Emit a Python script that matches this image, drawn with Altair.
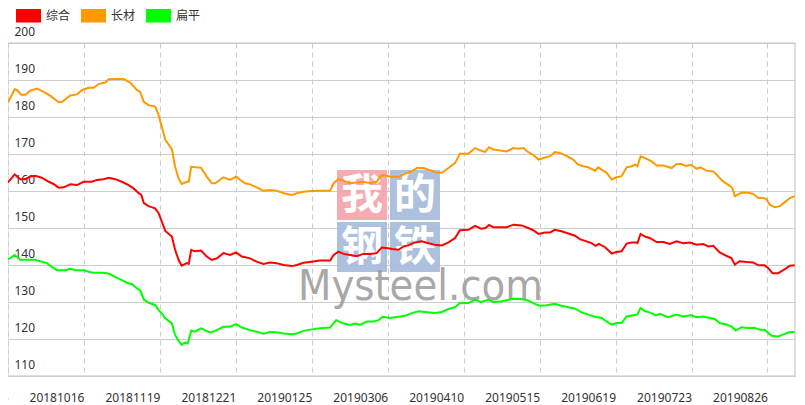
import altair as alt
import pandas as pd

series_names = ["综合", "长材", "扁平"]
series_colors = ["#ff0000", "#ff9900", "#00ff00"]

tick_idx = [0, 24, 48, 72, 96, 120, 144, 168, 192, 216, 240]
tick_labels = ["20180905", "20181016", "20181119", "20181221", "20190125", "20190306",
               "20190410", "20190515", "20190619", "20190723", "20190826"]
y_ticks = [110, 120, 130, 140, 150, 160, 170, 180, 190, 200]

# 长材
long_x = [0, 2.1, 2.8, 4.2, 5.5, 7.0, 9.2, 11.3, 13.4, 16.0, 17.1, 19.7, 21.8, 23.4, 25.5, 27.1, 28.6, 30.7, 31.8, 33.9,
          36.5, 38.6, 40.7, 41.8, 42.9, 44.4, 46.5, 47.4, 48.6, 49.7, 51.8, 52.8, 53.9, 54.9, 56.5, 57.1, 57.9, 59.1, 61.0, 62.8,
          64.4, 65.5, 68.1, 70.2, 72.1, 73.4, 74.9, 76.5, 78.6, 80.7, 82.8, 84.9, 87.1, 89.7, 91.3, 93.4, 96.0, 98.6, 101.8, 102.9,
          104.4, 106.0, 108.1, 110.2, 112.3, 114.4, 116.5, 117.6, 118.6, 120.7, 123.4, 125.5, 127.6, 129.2, 131.3, 133.4, 135.5, 137.1, 139.2, 141.3,
          142.8, 145.5, 147.6, 149.2, 150.7, 152.0, 153.4, 155.0, 157.6, 159.7, 161.3, 162.9, 164.4, 166.0, 167.6, 169.2, 171.3, 172.8, 174.4, 176.5,
          178.6, 180.2, 181.8, 183.4, 185.5, 186.5, 188.1, 189.2, 190.8, 192.3, 193.9, 195.5, 197.1, 198.1, 198.9, 199.9, 201.3, 203.4, 205.0, 207.1,
          209.7, 211.3, 212.8, 214.2, 215.8, 217.6, 218.8, 220.7, 222.9, 224.4, 226.0, 228.1, 228.9, 229.7, 231.8, 233.9, 235.5, 237.1, 238.6, 239.7,
          240.7, 242.3, 243.9, 245.5, 247.1, 248.6]
long_v = [183.9, 187.5, 187.3, 186.0, 186.0, 187.1, 187.7, 186.8, 185.7, 184.0, 184.1, 185.8, 186.1, 187.3, 187.9, 187.9, 188.9, 189.3, 190.2, 190.3,
          190.3, 189.3, 187.3, 186.8, 184.1, 183.2, 182.8, 181.0, 177.4, 173.8, 171.3, 166.6, 163.4, 161.9, 162.5, 162.5, 166.6, 166.4, 166.3, 163.9,
          162.1, 162.1, 163.7, 163.0, 163.9, 163.0, 162.1, 161.8, 161.0, 160.1, 160.3, 160.1, 159.4, 158.9, 159.4, 159.8, 160.0, 160.1, 160.1, 162.1,
          163.2, 162.8, 162.1, 162.3, 162.5, 162.1, 162.5, 163.9, 164.3, 163.9, 163.8, 164.7, 165.3, 166.2, 166.2, 165.6, 164.9, 164.9, 166.2, 167.6,
          170.1, 170.1, 171.6, 171.0, 170.5, 171.8, 171.2, 171.0, 170.7, 171.6, 171.4, 171.6, 170.5, 169.8, 168.5, 168.9, 169.4, 170.5, 170.3, 169.5,
          168.5, 167.1, 166.7, 166.4, 165.5, 166.4, 165.5, 164.9, 163.1, 163.7, 164.0, 166.4, 166.7, 167.1, 166.7, 169.4, 168.9, 168.0, 166.9, 166.9,
          166.2, 167.3, 167.3, 166.8, 167.1, 166.0, 166.4, 165.5, 165.3, 164.0, 162.6, 161.4, 160.8, 158.6, 159.6, 159.5, 159.2, 158.1, 158.1, 157.8,
          156.3, 155.6, 155.9, 157.0, 158.1, 158.6]

# 综合
comp_x = [0, 2.1, 3.9, 5.5, 7.0, 8.6, 10.7, 12.9, 14.4, 16.0, 17.6, 19.7, 21.8, 23.9, 26.5, 28.1, 30.2, 31.8, 33.9, 36.0,
          38.1, 39.7, 41.3, 42.1, 42.9, 44.4, 46.5, 47.6, 48.6, 49.7, 51.8, 52.8, 53.9, 54.9, 56.5, 57.1, 57.9, 59.1, 61.0, 62.8,
          64.4, 66.0, 68.1, 70.2, 72.1, 73.9, 76.5, 78.6, 80.7, 82.8, 84.9, 87.1, 89.7, 91.3, 93.4, 96.0, 98.6, 101.8, 102.9, 104.4,
          106.0, 108.1, 110.2, 112.3, 114.4, 116.5, 118.1, 120.2, 121.3, 123.4, 125.0, 126.5, 128.6, 130.7, 132.9, 134.9, 137.1, 139.2, 141.3, 142.8,
          145.5, 147.6, 149.5, 150.9, 152.0, 153.4, 155.0, 157.6, 159.7, 162.3, 164.4, 166.0, 167.6, 169.7, 171.3, 172.8, 174.9, 177.1, 179.2, 180.7,
          182.8, 184.4, 185.7, 186.7, 188.7, 190.8, 192.3, 193.9, 195.5, 197.1, 198.4, 198.9, 199.9, 201.3, 202.8, 205.0, 207.1, 209.1, 211.3, 213.4,
          215.5, 217.6, 219.7, 221.3, 222.9, 224.9, 227.0, 228.6, 229.7, 231.2, 233.4, 235.5, 237.1, 239.1, 240.2, 241.6, 243.4, 245.5, 247.1, 248.6]
comp_v = [162.3, 164.5, 163.2, 163.2, 163.9, 164.1, 163.6, 162.5, 161.9, 160.9, 161.0, 161.8, 161.6, 162.5, 162.5, 163.0, 163.2, 163.6, 163.2, 162.5,
          161.6, 160.7, 159.4, 159.0, 156.8, 155.9, 155.3, 154.0, 151.7, 149.2, 147.7, 144.1, 141.4, 139.8, 140.5, 140.3, 144.1, 143.7, 143.9, 142.3,
          141.4, 141.8, 143.2, 142.7, 143.4, 142.3, 141.8, 140.9, 140.3, 140.7, 140.5, 140.0, 139.7, 140.0, 140.6, 140.9, 141.2, 141.2, 142.7, 143.6,
          143.0, 142.7, 142.4, 143.0, 143.0, 143.2, 144.7, 144.5, 144.3, 144.1, 145.0, 145.3, 146.1, 146.4, 145.9, 145.5, 145.3, 146.1, 147.3, 149.4,
          149.5, 150.6, 149.8, 150.0, 150.8, 150.2, 150.2, 150.2, 150.9, 150.7, 150.0, 149.4, 148.4, 148.8, 148.8, 149.5, 149.1, 148.5, 147.9, 147.0,
          146.4, 145.9, 145.2, 145.7, 144.8, 143.1, 143.5, 143.7, 145.8, 146.1, 146.1, 145.9, 148.4, 147.7, 147.3, 146.2, 146.2, 145.7, 146.4, 145.9,
          146.1, 145.5, 145.7, 145.0, 145.2, 143.4, 142.5, 141.9, 140.1, 141.0, 140.8, 140.7, 139.9, 139.9, 139.2, 137.8, 137.8, 138.9, 139.8, 139.9]

# 扁平
flat_x = [0, 2.1, 3.9, 6.5, 8.6, 10.7, 12.3, 13.9, 15.5, 18.1, 19.7, 21.3, 23.9, 26.5, 29.7, 31.8, 33.9, 36.0, 37.6, 39.2,
          40.7, 41.8, 42.9, 44.4, 46.5, 47.6, 48.6, 49.7, 51.8, 52.8, 53.9, 54.9, 55.8, 56.8, 57.9, 59.0, 61.0, 63.9, 66.0, 68.1,
          70.2, 72.1, 73.9, 76.5, 78.6, 80.7, 82.8, 84.9, 87.1, 89.7, 91.3, 93.4, 96.0, 98.6, 101.8, 103.7, 106.0, 108.1, 109.7, 111.3,
          113.4, 115.5, 117.1, 118.4, 120.7, 123.4, 125.5, 127.6, 129.7, 131.8, 134.9, 137.1, 139.2, 141.3, 142.8, 145.5, 147.6, 149.5, 151.8, 153.4,
          156.0, 157.6, 159.7, 162.3, 164.4, 166.0, 167.9, 170.2, 172.8, 174.9, 177.1, 179.2, 181.3, 183.4, 185.5, 187.6, 188.7, 190.8, 192.3, 193.9,
          195.5, 197.6, 198.9, 199.9, 201.3, 202.8, 204.7, 206.0, 208.6, 211.3, 213.4, 215.8, 217.6, 219.7, 221.8, 223.4, 224.9, 227.0, 228.6, 230.0,
          231.8, 233.9, 236.0, 237.6, 239.1, 241.3, 243.4, 245.5, 247.1, 248.6]
flat_v = [141.5, 142.7, 141.4, 141.4, 141.4, 140.9, 140.5, 139.5, 138.6, 138.6, 139.0, 138.6, 138.6, 138.0, 137.9, 137.7, 136.8, 135.9, 135.2, 134.8,
          133.7, 133.1, 130.7, 129.8, 129.2, 127.8, 126.9, 125.6, 124.2, 121.1, 119.5, 118.4, 119.0, 118.8, 122.3, 122.0, 122.9, 121.7, 122.4, 123.3,
          123.3, 124.0, 123.1, 122.4, 122.0, 121.4, 121.9, 121.8, 121.5, 121.3, 121.5, 122.2, 122.6, 122.9, 123.1, 125.1, 124.2, 123.8, 124.2, 123.8,
          124.7, 124.7, 125.1, 126.0, 125.7, 126.0, 126.3, 127.0, 127.5, 127.3, 127.0, 127.3, 128.1, 128.6, 129.7, 129.7, 130.6, 130.0, 130.6, 130.0,
          130.2, 130.5, 130.9, 130.8, 130.4, 129.7, 129.0, 129.1, 129.5, 129.0, 128.6, 128.2, 127.2, 126.6, 126.0, 125.7, 125.0, 123.9, 124.3, 124.3,
          126.1, 126.4, 126.6, 128.4, 127.5, 127.2, 126.4, 126.8, 125.9, 126.6, 126.1, 126.4, 125.9, 126.1, 125.7, 125.4, 124.3, 123.9, 123.4, 122.3,
          123.2, 123.0, 123.0, 122.5, 122.5, 120.9, 120.7, 121.4, 121.9, 121.9]

assert len(long_x) == len(long_v)
assert len(comp_x) == len(comp_v)
assert len(flat_x) == len(flat_v)

rows = []
for name, xs, vs in [("综合", comp_x, comp_v), ("长材", long_x, long_v), ("扁平", flat_x, flat_v)]:
    for x, v in zip(xs, vs):
        rows.append({"series": name, "idx": x, "value": v})
df = pd.DataFrame(rows)

W, H = 787, 333
label_expr = "[" + ",".join("'" + s + "'" for s in tick_labels) + "][round(datum.value / 24)]"

# legend swatch: a 25x13 block drawn as stacked horizontal strokes (unit box scaled by sqrt(size)/2)
swatch_rows = [-0.48 + 0.08 * i for i in range(13)]
swatch_path = "".join("M-1,%.2fH1" % r for r in swatch_rows)

x_enc = alt.X(
    "idx:Q",
    scale=alt.Scale(domain=[0, 248.7], nice=False, zero=False),
    axis=alt.Axis(
        values=tick_idx, labelExpr=label_expr, title=None, grid=True,
        gridDash=[5, 4], gridColor="#cccccc", gridWidth=1, ticks=False, domain=False,
        labelAlign="right", labelPadding=16, labelFontSize=12, labelFont="Noto Sans",
        labelColor="#333333", labelFlush=False, labelOverlap=False, labelBound=False,
    ),
)
y_enc = alt.Y(
    "value:Q",
    scale=alt.Scale(domain=[110, 200], nice=False, zero=False),
    axis=alt.Axis(
        values=y_ticks, title=None, grid=True, gridColor="#cccccc", gridWidth=1,
        ticks=False, domain=False, labelAlign="left", labelPadding=-6,
        labelBaseline="alphabetic", labelOffset=-8, labelFontSize=12,
        labelFont="Noto Sans", labelColor="#333333", labelFlush=False,
        labelOverlap=False, labelBound=False,
    ),
)

lines = alt.Chart(df).mark_line(strokeWidth=2, interpolate="linear").encode(
    x=x_enc,
    y=y_enc,
    color=alt.Color(
        "series:N",
        scale=alt.Scale(domain=series_names, range=series_colors),
        sort=series_names,
        legend=alt.Legend(
            title=None, orient="none", legendX=7, legendY=-41, direction="horizontal",
            symbolType=swatch_path, symbolSize=625, symbolStrokeWidth=1.5,
            labelFont="Noto Sans CJK SC", labelFontSize=12, labelColor="#333333",
            labelOffset=4, columnPadding=7, padding=0, offset=0,
        ),
    ),
    detail="series:N",
)

# watermark (decoration)
wm_layers = []
wm_boxes = [("我", 329, 127, "#f4a4aa"), ("的", 382, 127, "#a6bbdb"),
            ("钢", 329, 179, "#a6bbdb"), ("铁", 382, 179, "#a6bbdb")]
for ch, bx, by, col in wm_boxes:
    box = alt.Chart(pd.DataFrame({"c": [ch]})).mark_rect(fill=col, opacity=0.92).encode(
        x=alt.value(bx), x2=alt.value(bx + 50), y=alt.value(by), y2=alt.value(by + 50)
    )
    txt = alt.Chart(pd.DataFrame({"c": [ch]})).mark_text(
        fontSize=42, font="Noto Sans CJK SC", fontWeight="bold", color="white",
        align="center", baseline="middle"
    ).encode(text="c:N", x=alt.value(bx + 25), y=alt.value(by + 26))
    wm_layers += [box, txt]

wm_text = alt.Chart(pd.DataFrame({"t": ["Mysteel.com"]})).mark_text(
    fontSize=43, font="Liberation Sans Narrow, DejaVu Sans Condensed, Roboto Condensed, Liberation Sans",
    color="#9a9a9a", opacity=0.85, align="left", baseline="alphabetic"
).encode(text="t:N", x=alt.value(290), y=alt.value(257))
wm_layers.append(wm_text)

chart = alt.layer(*wm_layers, lines).properties(
    width=W, height=H,
    padding={"left": 0, "top": 35, "right": 2, "bottom": 28},
    autosize=alt.AutoSizeParams(type="none"),
    background="white",
).configure_view(stroke="#d6d6d6", strokeWidth=1.5)

chart.save("out.html", embed_options={"renderer": "svg", "actions": False})
